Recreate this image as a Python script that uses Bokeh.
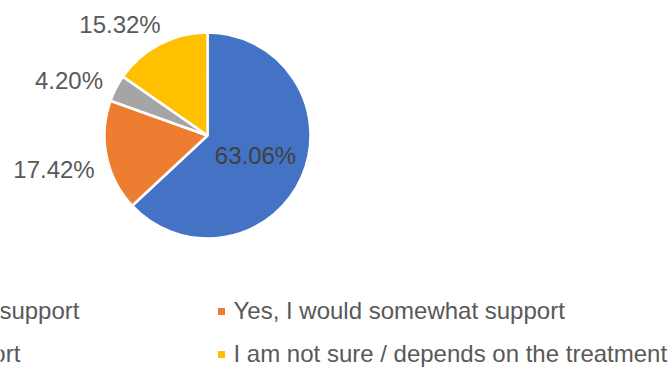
import math
from bokeh.plotting import figure
from bokeh.models import Range1d, ColumnDataSource
from bokeh.core.properties import value
from bokeh.embed import file_html
from bokeh.resources import INLINE

# ---- data ----
categories = [
    "Yes, I would strongly support",
    "Yes, I would somewhat support",
    "No, I would not support",
    "I am not sure / depends on the treatment",
]
shares = [63.06, 17.42, 4.20, 15.32]
labels = ["63.06%", "17.42%", "4.20%", "15.32%"]
colors = ["#4472C4", "#ED7D31", "#A5A5A5", "#FFC000"]

# ---- layout (pixels, from top-left) ----
W, H = 669, 367
CX, CY, R = 207, 135, 103
label_pos = [(255, 155), (53.5, 168.5), (68.5, 79.5), (119.5, 23.5)]  # centre x, middle y
legend_marker_x = [-239, 221, -239, 221]
legend_text_x = [-227, 233, -227, 233]
legend_row_y = [310, 310, 352.5, 352.5]
legend_marker_y = [311, 311, 354, 354]
FONT = "Liberation Sans"
TXT = "#595959"

p = figure(width=W, height=H, output_backend="svg", toolbar_location=None,
           x_range=Range1d(0, W), y_range=Range1d(0, H), min_border=0)
p.axis.visible = False
p.grid.visible = False
p.outline_line_color = None
p.background_fill_color = "white"
p.border_fill_color = "white"

def fy(y):
    return H - y

total = sum(shares)
starts, ends = [], []
cum = 0.0
for s in shares:
    a0 = math.pi / 2 - 2 * math.pi * cum / total
    cum += s
    a1 = math.pi / 2 - 2 * math.pi * cum / total
    starts.append(a0)
    ends.append(a1)

src = ColumnDataSource(dict(x=[CX] * 4, y=[fy(CY)] * 4, start=starts, end=ends,
                            color=colors))
p.wedge(x="x", y="y", radius=R, radius_units="screen", start_angle="start",
        end_angle="end", direction="clock", fill_color="color",
        line_color="white", line_width=2.5, source=src)

lsrc = ColumnDataSource(dict(x=[q[0] for q in label_pos],
                             y=[fy(q[1]) for q in label_pos], t=labels,
                             c=["#404040", TXT, TXT, TXT]))
p.text(x="x", y="y", text="t", source=lsrc, text_font=value(FONT),
       text_font_size="24px", text_color="c", text_align="center",
       text_baseline="middle")

msrc = ColumnDataSource(dict(x=legend_marker_x,
                             y=[fy(y) for y in legend_marker_y],
                             color=colors))
p.rect(x="x", y="y", width=7, height=7, width_units="screen",
       height_units="screen", fill_color="color", line_color=None, source=msrc)

tsrc = ColumnDataSource(dict(x=legend_text_x, y=[fy(y) for y in legend_row_y],
                             t=categories))
p.text(x="x", y="y", text="t", source=tsrc, text_font=value(FONT),
       text_font_size="24px", text_color=TXT, text_align="left",
       text_baseline="middle")

open("out.html", "w").write(file_html(p, INLINE))
